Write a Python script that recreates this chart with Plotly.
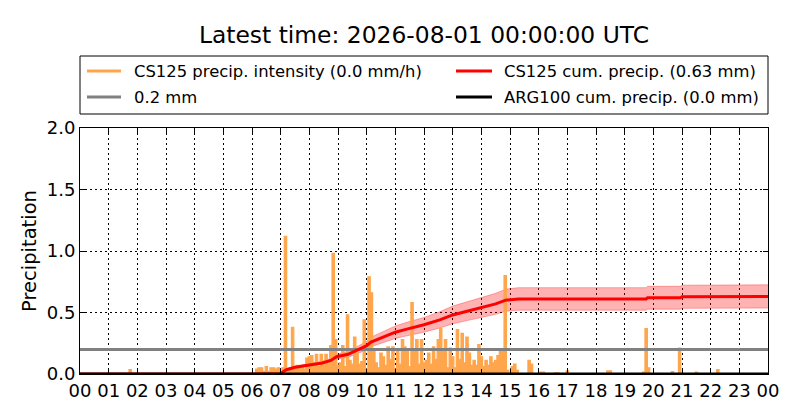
import plotly.graph_objects as go

DAY = "2026-07-31"
NEXT_DAY = "2026-08-01"

# CS125 precipitation intensity (mm/h)
intensity_times = [
    "00:00", "01:40", "01:45", "01:50",
    "06:00", "06:05", "06:10", "06:15", "06:20", "06:25", "06:30", "06:35", "06:40", "06:45", "06:50", "06:55",
    "07:00", "07:05", "07:10", "07:15", "07:20", "07:25", "07:30", "07:35", "07:40", "07:45", "07:50", "07:55",
    "08:00", "08:05", "08:10", "08:15", "08:20", "08:25", "08:30", "08:35", "08:40", "08:45", "08:50", "08:55",
    "09:00", "09:05", "09:10", "09:15", "09:20", "09:25", "09:30", "09:35", "09:40", "09:45", "09:50", "09:55",
    "10:00", "10:05", "10:10", "10:15", "10:20", "10:25", "10:30", "10:35", "10:40", "10:45", "10:50", "10:55",
    "11:00", "11:05", "11:10", "11:15", "11:20", "11:25", "11:30", "11:35", "11:40", "11:45", "11:50", "11:55",
    "12:00", "12:05", "12:10", "12:15", "12:20", "12:25", "12:30", "12:35", "12:40", "12:45", "12:50", "12:55",
    "13:00", "13:05", "13:10", "13:15", "13:20", "13:25", "13:30", "13:35", "13:40", "13:45", "13:50", "13:55",
    "14:00", "14:05", "14:10", "14:15", "14:20", "14:25", "14:30", "14:35", "14:40", "14:45", "14:50", "14:55",
    "15:00", "15:05", "15:10", "15:15", "15:20",
    "15:35", "15:40", "15:45", "15:50",
    "16:00", "16:05", "16:10", "16:15",
    "16:30", "16:35", "16:40", "16:45",
    "16:55", "17:00", "17:05",
    "18:20", "18:25", "18:30", "18:35",
    "19:35", "19:40", "19:45", "19:50", "19:55",
    "20:35", "20:40", "20:45", "20:50", "20:55", "21:00",
    "21:25", "21:30", "21:35",
    "22:10", "22:15", "22:20",
    "24:00",
]
intensity_values = [
    0.0, 0.0, 0.035, 0.0,
    0.0, 0.0, 0.04, 0.05, 0.05, 0.02, 0.06, 0.02, 0.05, 0.05, 0.04, 0.05,
    0.02, 0.05, 1.12, 0.03, 0.05, 0.38, 0.04, 0.07, 0.05, 0.06, 0.04, 0.13,
    0.14, 0.15, 0.06, 0.16, 0.06, 0.16, 0.08, 0.16, 0.08, 0.23, 0.98, 0.28,
    0.07, 0.09, 0.23, 0.06, 0.48, 0.11, 0.08, 0.30, 0.17, 0.08, 0.10, 0.44,
    0.04, 0.79, 0.66, 0.20, 0.09, 0.05, 0.17, 0.14, 0.07, 0.22, 0.12, 0.22,
    0.04, 0.20, 0.08, 0.28, 0.22, 0.20, 0.06, 0.58, 0.20, 0.28, 0.08, 0.28,
    0.09, 0.11, 0.17, 0.08, 0.22, 0.12, 0.28, 0.37, 0.20, 0.28, 0.05, 0.21,
    0.14, 0.05, 0.36, 0.12, 0.33, 0.09, 0.30, 0.17, 0.07, 0.11, 0.07, 0.24,
    0.14, 0.06, 0.11, 0.07, 0.14, 0.09, 0.11, 0.15, 0.19, 0.19, 0.80, 0.03,
    0.0, 0.06, 0.08, 0.03, 0.0,
    0.0, 0.11, 0.08, 0.0,
    0.0, 0.015, 0.015, 0.0,
    0.0, 0.01, 0.01, 0.0,
    0.0, 0.025, 0.0,
    0.0, 0.025, 0.025, 0.0,
    0.0, 0.016, 0.37, 0.05, 0.0,
    0.0, 0.02, 0.0, 0.0, 0.21, 0.0,
    0.0, 0.015, 0.0,
    0.0, 0.035, 0.0,
    0.0,
]

# CS125 cumulative precipitation (mm) with its uncertainty band
cum_times = [
    "00:00", "07:00", "07:06", "07:12", "07:30", "08:00", "08:27", "08:45", "08:57",
    "09:21", "09:42", "10:00", "10:09", "10:36", "11:00", "11:24", "12:00", "12:33",
    "13:00", "13:30", "14:00", "14:30", "14:51", "15:18", "19:45", "19:48", "20:57",
    "21:00", "24:00",
]
cum_values = [
    0.0, 0.0, 0.02, 0.035, 0.055, 0.075, 0.09, 0.11, 0.14,
    0.16, 0.195, 0.23, 0.26, 0.30, 0.34, 0.365, 0.40, 0.44,
    0.48, 0.51, 0.54, 0.57, 0.60, 0.61, 0.61, 0.62, 0.62,
    0.628, 0.63,
]
cum_upper = [
    0.0, 0.0, 0.023, 0.040, 0.063, 0.086, 0.104, 0.127, 0.161,
    0.184, 0.224, 0.265, 0.299, 0.345, 0.391, 0.420, 0.460, 0.506,
    0.552, 0.587, 0.621, 0.656, 0.690, 0.702, 0.702, 0.713, 0.713,
    0.722, 0.725,
]
cum_lower = [
    0.0, 0.0, 0.017, 0.030, 0.047, 0.064, 0.077, 0.094, 0.119,
    0.136, 0.166, 0.196, 0.221, 0.255, 0.289, 0.310, 0.340, 0.374,
    0.408, 0.434, 0.459, 0.485, 0.510, 0.519, 0.519, 0.527, 0.527,
    0.534, 0.536,
]

# ARG100 cumulative precipitation (mm)
arg_times = ["00:00", "24:00"]
arg_values = [0.0, 0.0]

# threshold line
threshold_times = ["00:00", "24:00"]
threshold_values = [0.2, 0.2]

legend_labels = [
    "CS125 precip. intensity (0.0 mm/h)",
    "CS125 cum. precip. (0.63 mm)",
    "0.2 mm",
    "ARG100 cum. precip. (0.0 mm)",
]
title_text = "Latest time: 2026-08-01 00:00:00 UTC"
y_label = "Precipitation"


def ts(t):
    if t == "24:00":
        return f"{NEXT_DAY} 00:00"
    return f"{DAY} {t}"


ORANGE = "#ffa64d"
RED = "#ff0000"
GRAY = "#808080"
BLACK = "#000000"
FONT = "DejaVu Sans"

# The page body has an 8px margin, so the figure is drawn 8px in from the window edge.
OFF = 8
W, H = 800 - OFF, 420 - OFF
PL, PR, PT, PB = 80 - OFF, 32, 128 - OFF, H - (374 - OFF)

fig = go.Figure()

# band
fig.add_trace(go.Scatter(x=[ts(t) for t in cum_times], y=cum_upper, mode="lines",
                         line=dict(color="rgba(255,0,0,0.3)", width=1), hoverinfo="skip",
                         showlegend=False))
fig.add_trace(go.Scatter(x=[ts(t) for t in cum_times], y=cum_lower, mode="lines",
                         line=dict(color="rgba(255,0,0,0.3)", width=1), fill="tonexty",
                         fillcolor="rgba(255,0,0,0.3)", hoverinfo="skip", showlegend=False))
# intensity
fig.add_trace(go.Scatter(x=[ts(t) for t in intensity_times], y=intensity_values, mode="lines",
                         line=dict(color=ORANGE, width=1.2, shape="hvh"), fill="tozeroy",
                         fillcolor=ORANGE, name=legend_labels[0], showlegend=False))
# threshold
fig.add_trace(go.Scatter(x=[ts(t) for t in threshold_times], y=threshold_values, mode="lines",
                         line=dict(color=GRAY, width=3), name=legend_labels[2], showlegend=False))
# cumulative
fig.add_trace(go.Scatter(x=[ts(t) for t in cum_times], y=cum_values, mode="lines",
                         line=dict(color=RED, width=3), name=legend_labels[1], showlegend=False))
# ARG100
fig.add_trace(go.Scatter(x=[ts(t) for t in arg_times], y=arg_values, mode="lines",
                         line=dict(color=BLACK, width=3), name=legend_labels[3], showlegend=False))

# manual legend (window px: plot area x 80..768, y 128..374)
PX0, PW = 80, 688
PY0, PH = 374, 246


def px_x(p):
    return (p - PX0) / PW


def px_y(p):
    return (PY0 - p) / PH


shapes = [dict(type="rect", xref="paper", yref="paper", x0=px_x(80), x1=px_x(768),
               y0=px_y(114), y1=px_y(56), line=dict(color="black", width=1),
               fillcolor="white", layer="above")]
legend_items = [
    (legend_labels[0], ORANGE, 87, 121, 133, 71),
    (legend_labels[1], RED, 456, 492, 503, 71),
    (legend_labels[2], GRAY, 87, 121, 133, 97),
    (legend_labels[3], BLACK, 456, 492, 503, 97),
]
annotations = []
for label, color, lx0, lx1, tx, ry in legend_items:
    shapes.append(dict(type="line", xref="paper", yref="paper", x0=px_x(lx0), x1=px_x(lx1),
                       y0=px_y(ry), y1=px_y(ry), line=dict(color=color, width=3), layer="above"))
    annotations.append(dict(text=label, xref="paper", yref="paper", x=px_x(tx), y=px_y(ry),
                            xanchor="left", yanchor="middle", showarrow=False, borderpad=0,
                            font=dict(family=FONT, size=16.4, color="black")))

fig.update_layout(
    width=W, height=H,
    margin=dict(l=PL, r=PR, t=PT, b=PB, autoexpand=False),
    paper_bgcolor="white", plot_bgcolor="white",
    showlegend=False,
    font=dict(family=FONT, color="black"),
    title=dict(text=title_text, x=0.5, xref="paper", xanchor="center",
               y=1 - (35 - OFF) / H, yref="container", yanchor="middle",
               font=dict(family=FONT, size=23.4, color="black")),
    shapes=shapes,
    annotations=annotations,
)
fig.update_xaxes(
    type="date", range=[ts("00:00"), ts("24:00")], tick0=ts("00:00"), dtick=3600000,
    tickformat="%H", ticks="inside", ticklen=5, tickcolor="black", mirror="ticks",
    showline=True, linecolor="black", linewidth=1,
    showgrid=True, gridcolor="black", gridwidth=1, griddash="2px,3px",
    tickfont=dict(family=FONT, size=18, color="black"), zeroline=False,
)
fig.update_yaxes(
    range=[0, 2], tickvals=[0, 0.5, 1.0, 1.5, 2.0], ticktext=["0.0", "0.5", "1.0", "1.5", "2.0"],
    ticks="inside", ticklen=5, tickcolor="black", mirror="ticks",
    showline=True, linecolor="black", linewidth=1,
    showgrid=True, gridcolor="black", gridwidth=1, griddash="2px,3px",
    tickfont=dict(family=FONT, size=18, color="black"), zeroline=False,
    title=dict(text=y_label, font=dict(family=FONT, size=19.5, color="black"), standoff=4),
)

fig.write_html("out.html")
